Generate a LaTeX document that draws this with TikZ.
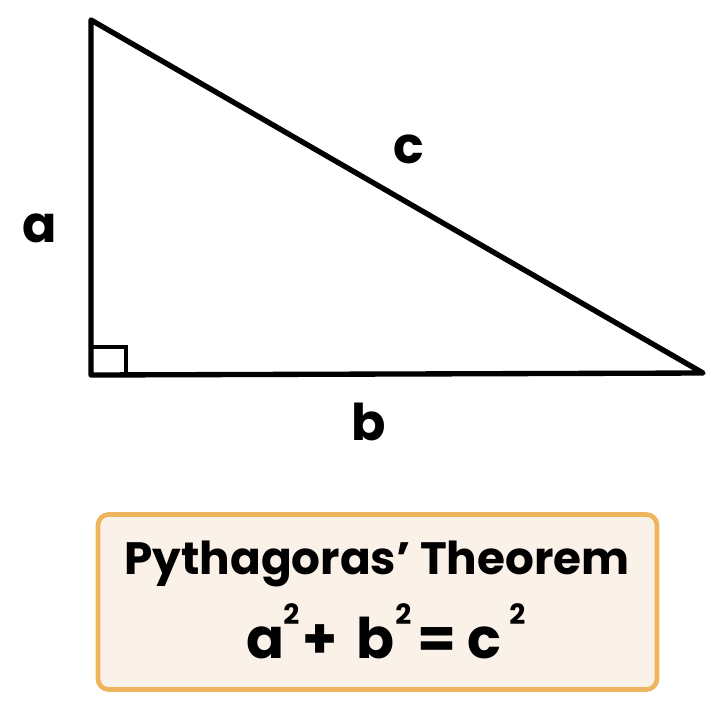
\documentclass[tikz,border=0pt]{standalone}
\usepackage{fontspec}
\setmainfont{Poppins}
\definecolor{boxfill}{HTML}{FAF2E8}
\definecolor{boxline}{HTML}{EFB45E}
\begin{document}
\begin{tikzpicture}[x=0.75pt,y=-0.75pt,
  edge/.style={line width=4pt,line join=round,line cap=round},
  lbl/.style={font=\fontsize{38}{38}\selectfont\bfseries,anchor=base,inner sep=0pt},
  eqsym/.style={font=\fontsize{42}{42}\selectfont\bfseries,anchor=base west,inner sep=0pt},
  sup/.style={font=\fontsize{21}{21}\selectfont\bfseries,anchor=base west,inner sep=0pt},
  note/.style={draw=boxline,fill=boxfill,line width=3.5pt,rounded corners=8pt}]
\useasboundingbox (0,0) rectangle (720,708);
\coordinate (A) at (91,20);
\coordinate (C) at (91,375);
\coordinate (B) at (703,373);
\draw[edge] (A) -- (C) -- (B) -- cycle;
\draw[line width=3pt] (91,347) -- (126,347) -- (126,375);
\node[lbl] (la) at (40,242) {a};
\node[lbl] (lc) at (409,163) {c};
\node[lbl] (lb) at (369,440) {b};
\node[note,minimum width=559*0.75pt,minimum height=175*0.75pt] (box) at (377.5,602) {};
\node[font=\fontsize{34}{34}\selectfont\bfseries,anchor=base,inner sep=0pt] (title) at (377,574) {Pythagoras' Theorem};
\node[eqsym] (ea) at (246,658) {a};
\node[sup] (e2a) at (283,624) {2};
\node[eqsym] (ep) at (302,658) {+};
\node[eqsym] (eb) at (356,658) {b};
\node[sup] (e2b) at (395,624) {2};
\node[eqsym] (ee) at (417,658) {=};
\node[eqsym] (ec) at (467,658) {c};
\node[sup] (e2c) at (509,624) {2};
\end{tikzpicture}
\end{document}
